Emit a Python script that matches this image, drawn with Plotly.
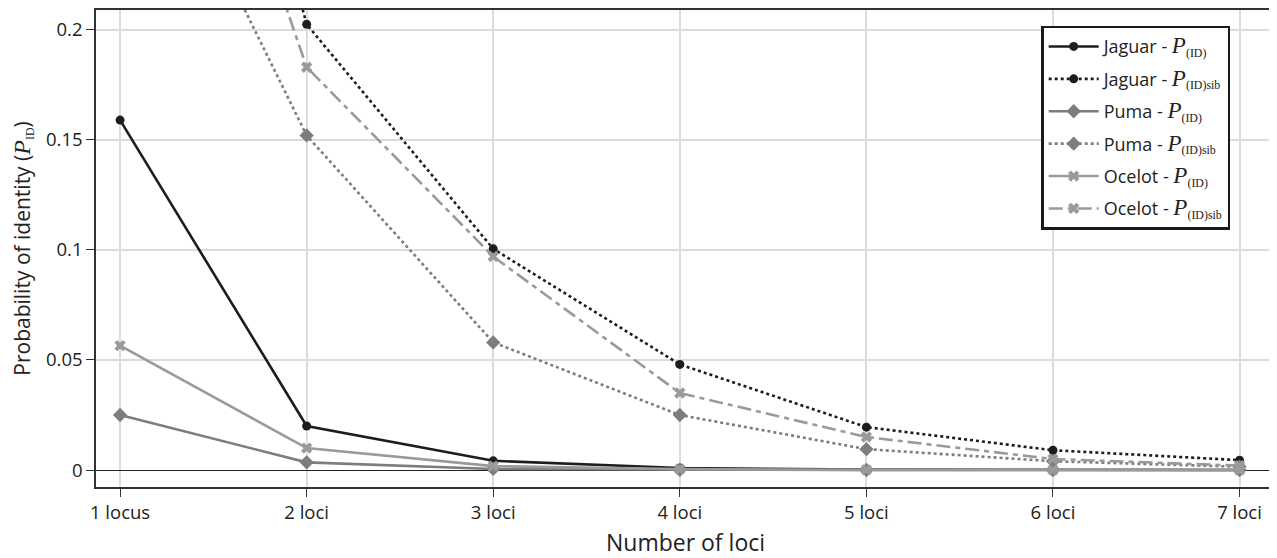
import plotly.graph_objects as go

categories = ["1 locus", "2 loci", "3 loci", "4 loci", "5 loci", "6 loci", "7 loci"]
x_pos = [1, 2, 3, 4, 5, 6, 7]

jaguar_pid = [0.159, 0.020, 0.0042, 0.0009, 0.0002, 0.00005, 0.00001]
jaguar_pidsib = [0.52, 0.2025, 0.1005, 0.048, 0.0195, 0.009, 0.0045]
puma_pid = [0.025, 0.0035, 0.0005, 0.0001, 0.00002, 0.000005, 0.000001]
puma_pidsib = [0.324, 0.152, 0.058, 0.025, 0.0095, 0.004, 0.0015]
ocelot_pid = [0.0565, 0.0100, 0.0018, 0.0004, 0.0001, 0.00002, 0.000005]
ocelot_pidsib = [0.43, 0.183, 0.097, 0.035, 0.015, 0.005, 0.002]

SERIF = "Liberation Serif, Times New Roman, serif"

def lab(name, sub):
    return (f"{name} - <span style='font-family:{SERIF};font-size:23px'><i>P</i></span>"
            f"<span style='font-family:{SERIF};font-size:17px'><sub>{sub}</sub></span>")

BLACK = "#1f1c1d"
PUMA = "#7d7d7d"
OCE = "#9a9a9a"

series = [
    (lab("Jaguar", "(ID)"), jaguar_pid, BLACK, "solid", "circle", 9),
    (lab("Jaguar", "(ID)sib"), jaguar_pidsib, BLACK, "dot", "circle", 9),
    (lab("Puma", "(ID)"), puma_pid, PUMA, "solid", "diamond", 11),
    (lab("Puma", "(ID)sib"), puma_pidsib, PUMA, "dot", "diamond", 11),
    (lab("Ocelot", "(ID)"), ocelot_pid, OCE, "solid", "x", 10),
    (lab("Ocelot", "(ID)sib"), ocelot_pidsib, OCE, "14px,5px,5px,5px", "x", 10),
]

fig = go.Figure()
for i, (name, vals, col, dash, sym, size) in enumerate(series):
    fig.add_trace(go.Scatter(
        x=x_pos, y=vals, name=name, mode="lines+markers",
        legendgroup=f"g{i}",
        line=dict(color=col, width=2.6, dash=dash),
        marker=dict(symbol=sym, size=size, color=col),
        cliponaxis=True,
    ))

# page body has an 8px default margin, so the figure is offset by 8px
fig.update_layout(
    width=1269, height=550,
    margin=dict(l=88, r=2, t=0, b=71),
    paper_bgcolor="white", plot_bgcolor="white",
    font=dict(family="Open Sans, Noto Sans, sans-serif", size=18, color="#222"),
    showlegend=True,
    legend=dict(
        x=0.962, xanchor="right", y=0.967, yanchor="top",
        bgcolor="white", bordercolor="#1a1a1a", borderwidth=2.5,
        font=dict(size=18, color="#222"),
        tracegroupgap=6, itemwidth=50,
    ),
    xaxis=dict(
        tickmode="array", tickvals=x_pos, ticktext=categories,
        range=[0.871, 7.19],
        showgrid=True, gridcolor="#dcdcdc", gridwidth=1.5,
        showline=True, linecolor="#333", linewidth=1.5, mirror=True,
        ticks="outside", ticklen=8, tickcolor="#333",
        zeroline=False,
        tickfont=dict(size=18.5),
        title=dict(text="Number of loci", font=dict(size=23), standoff=14),
    ),
    yaxis=dict(
        range=[-0.0077, 0.209],
        tickvals=[0, 0.05, 0.1, 0.15, 0.2],
        ticktext=["0", "0.05", "0.1", "0.15", "0.2"],
        showgrid=True, gridcolor="#dcdcdc", gridwidth=1.5,
        showline=True, linecolor="#333", linewidth=1.5, mirror=True,
        ticks="outside", ticklen=8, tickcolor="#333",
        zeroline=True, zerolinecolor="#222", zerolinewidth=1.3,
        tickfont=dict(size=18.5),
        title=dict(
            text=f"Probability of identity (<span style='font-family:{SERIF};font-size:24px'><i>P</i></span><span style='font-family:{SERIF};font-size:17px'><sub>ID</sub></span>)",
            font=dict(size=21), standoff=10),
    ),
)

fig.write_html("out.html")
